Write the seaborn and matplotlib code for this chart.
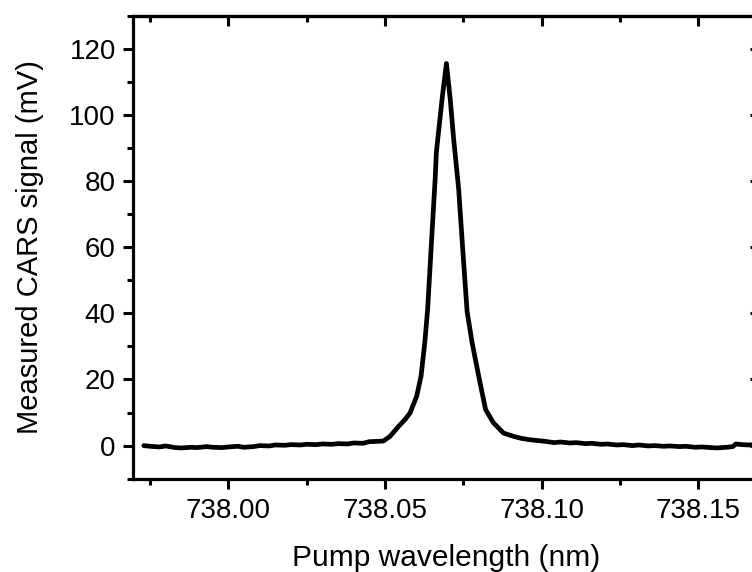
import pandas as pd
import seaborn as sns
import matplotlib.pyplot as plt
from matplotlib.ticker import MultipleLocator

# pump wavelength (nm) and measured CARS signal (mV)
wavelength = [
    737.973, 737.975, 737.978, 737.980, 737.983, 737.985, 737.988, 737.990,
    737.993, 737.995, 737.998, 738.000, 738.003, 738.005, 738.008, 738.010,
    738.013, 738.015, 738.018, 738.020, 738.023, 738.025, 738.028, 738.030,
    738.033, 738.035, 738.038, 738.040, 738.043, 738.045, 738.048,
    738.0495, 738.0516, 738.0543, 738.0564, 738.0580, 738.0601, 738.0615,
    738.0627, 738.0636, 738.0647, 738.0660, 738.0664, 738.0683, 738.0696,
    738.0708, 738.0719, 738.0735, 738.0749, 738.0762, 738.0778, 738.0799,
    738.0821, 738.0846, 738.0878, 738.0910,
    738.0935, 738.096, 738.099, 738.101, 738.104, 738.106, 738.109, 738.111,
    738.114, 738.116, 738.119, 738.121, 738.124, 738.126, 738.129, 738.131,
    738.134, 738.136, 738.139, 738.141, 738.144, 738.146, 738.149, 738.151,
    738.154, 738.156, 738.159, 738.161, 738.162, 738.164, 738.166, 738.169,
]
signal = [
    0.0, -0.2, -0.4, -0.1, -0.6, -0.7, -0.5, -0.6,
    -0.3, -0.5, -0.6, -0.4, -0.2, -0.5, -0.3, 0.0,
    -0.1, 0.2, 0.1, 0.3, 0.2, 0.4, 0.3, 0.5,
    0.4, 0.6, 0.5, 0.8, 0.7, 1.2, 1.3,
    1.4, 2.8, 5.8, 7.9, 9.9, 14.9, 21.0,
    31.2, 41.2, 59.4, 80.6, 88.8, 105.5, 115.5,
    104.8, 92.7, 77.6, 58.0, 40.5, 31.1, 21.0,
    10.9, 6.9, 3.8, 2.8,
    2.2, 1.8, 1.5, 1.3, 0.9, 1.1, 0.8, 0.9,
    0.6, 0.7, 0.4, 0.5, 0.2, 0.3, 0.0, 0.2,
    -0.1, 0.0, -0.2, -0.1, -0.3, -0.2, -0.5, -0.4,
    -0.6, -0.7, -0.5, -0.3, 0.5, 0.3, 0.2, 0.3,
]

x_ticks = [738.00, 738.05, 738.10, 738.15]
x_tick_labels = ["738.00", "738.05", "738.10", "738.15"]
y_ticks = [0, 20, 40, 60, 80, 100, 120]

sns.set_style("ticks")
plt.rcParams['font.family'] = ['Liberation Sans', 'DejaVu Sans']
plt.rcParams['text.color'] = 'black'
plt.rcParams['axes.labelcolor'] = 'black'

df = pd.DataFrame({"wavelength": wavelength, "signal": signal})

fig = plt.figure(figsize=(7.52, 5.72), dpi=100)
# the right spine sits just past the image edge, as in the original
ax = fig.add_axes([0.1762, 0.1631, 0.8345, 0.8098])
sns.lineplot(data=df, x="wavelength", y="signal", color="black",
             linewidth=3.4, estimator=None, ax=ax)

ax.set_xlim(737.9694, 738.1697)
ax.set_ylim(-10, 130)
ax.set_xticks(x_ticks)
ax.set_xticklabels(x_tick_labels)
ax.set_yticks(y_ticks)
ax.xaxis.set_minor_locator(MultipleLocator(0.025))
ax.yaxis.set_minor_locator(MultipleLocator(10))

for side in ["left", "bottom", "top", "right"]:
    ax.spines[side].set_visible(True)
    ax.spines[side].set_linewidth(2.3)
    ax.spines[side].set_color("black")

# left / bottom: ticks pointing out, with labels
ax.tick_params(which="major", direction="out", length=7, width=2.2,
               labelsize=20, colors="black")
ax.tick_params(which="minor", direction="out", length=4, width=2.2,
               colors="black")
ax.tick_params(axis="x", which="major", pad=7)
ax.tick_params(axis="y", which="major", pad=5)

# top / right: ticks pointing in, no labels
top = ax.secondary_xaxis("top")
top.set_xticks(x_ticks)
top.xaxis.set_minor_locator(MultipleLocator(0.025))
top.tick_params(which="major", direction="in", length=7, width=2.2,
                labeltop=False, colors="black")
top.tick_params(which="minor", direction="in", length=4, width=2.2,
                colors="black")
top.spines["top"].set_linewidth(2.3)

right = ax.secondary_yaxis("right")
right.set_yticks(y_ticks)
right.yaxis.set_minor_locator(MultipleLocator(10))
right.tick_params(which="major", direction="in", length=7, width=2.2,
                  labelright=False, colors="black")
right.tick_params(which="minor", direction="in", length=4, width=2.2,
                  colors="black")
right.spines["right"].set_linewidth(2.3)

ax.set_xlabel("Pump wavelength (nm)", fontsize=21.5, labelpad=14)
ax.set_ylabel("Measured CARS signal (mV)", fontsize=21, labelpad=18)

fig.savefig("out.png", dpi=100)
